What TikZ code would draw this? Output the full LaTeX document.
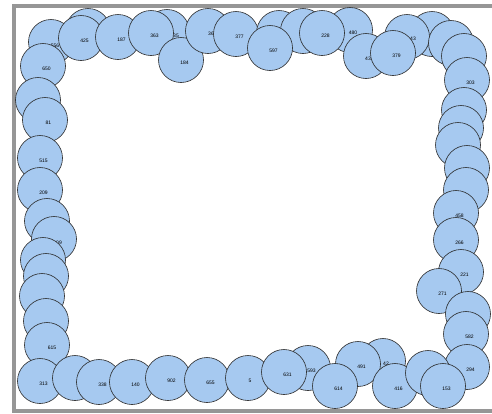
\documentclass[tikz,border=0pt]{standalone}
\usepackage{fontspec}
\setmainfont{Liberation Sans}
\definecolor{bubfill}{RGB}{166,201,240}
\definecolor{bubline}{RGB}{40,40,40}
\definecolor{framegray}{RGB}{150,150,150}
\tikzset{
  bub/.style={circle, draw=bubline, fill=bubfill, line width=0.6pt, minimum size=45pt, inner sep=0pt},
  lbl/.style={font=\fontsize{5}{6}\selectfont, inner sep=0pt, text=black}
}
\newcommand\bubl[4][{3.5,3}]{%
  \node[bub] (c#2) at (#3) {};
  \node[lbl] (t#2) at ([shift={(#1)}]c#2.center) {#4};}
\newcommand\bubu[2]{\node[bub] (u#1) at (#2) {};}
\begin{document}
\begin{tikzpicture}[x=1pt,y=-1pt]
\useasboundingbox (0,0) rectangle (492,413);
\clip (0,0) rectangle (492,413);
\draw[framegray, line width=3.8pt] (14,5.7) rectangle (497,411);
% top row
\bubu{a}{88,31}
\bubl[{4,4}]{556}{51,42}{556}
\bubl{650}{43,66}{650}
\bubl{425}{81,38}{425}
\bubl{187}{118,37}{187}
\bubl[{9,4}]{35}{167,32}{35}
\bubl{363}{151,33}{363}
\bubl{184}{181,60}{184}
\bubl[{3,3}]{36}{208,31}{36}
\bubl{377}{236,34}{377}
\bubu{b}{279,33}
\bubu{c}{303,31}
\bubl{597}{270,48}{597}
\bubl[{3,3}]{480}{350,30}{480}
\bubl{228}{322,33}{228}
\bubu{d}{432,34}
\bubl[{6,2}]{43b}{407,37}{43}
\bubl[{2,3}]{43a}{366,56}{43}
\bubl{379}{393,53}{379}
% right column
\bubu{e}{451,43}
\bubu{f}{464,56}
\bubl{303}{467,80}{303}
\bubu{g}{464,110}
\bubu{h}{461,128}
\bubu{i}{458,145}
\bubu{j}{467,168}
\bubu{k}{466,190}
\bubl{458}{456,213}{458}
\bubl{266}{456,240}{266}
\bubl{221}{461,272}{221}
\bubl{271}{439,291}{271}
\bubu{l}{468,314}
\bubl{582}{466,334}{582}
\bubl{294}{467,367}{294}
% left column
\bubu{m}{38,100}
\bubl{81}{45,120}{81}
\bubl{515}{40,158}{515}
\bubl{209}{40,190}{209}
\bubu{n}{47,221}
\bubl[{5,4}]{309}{54,239}{09}
\bubu{o}{43,260}
\bubu{p}{46,276}
\bubu{q}{42,296}
\bubu{r}{46,321}
\bubl[{5,3}]{615}{47,345}{615}
\bubl{313}{40,381}{313}
% bottom row
\bubu{s}{75,378}
\bubl{338}{99,382}{338}
\bubl{140}{132,382}{140}
\bubl{902}{168,378}{902}
\bubl{655}{207,380}{655}
\bubl[{2,3}]{5}{248,378}{5}
\bubl{593}{308,368}{593}
\bubl{631}{284,372}{631}
\bubl[{3,3}]{42}{383,361}{42}
\bubl{491}{358,364}{491}
\bubl{614}{335,386}{614}
\bubl{416}{395,386}{416}
\bubu{t}{428,373}
\bubl{153}{443,386}{153}
\end{tikzpicture}
\end{document}
